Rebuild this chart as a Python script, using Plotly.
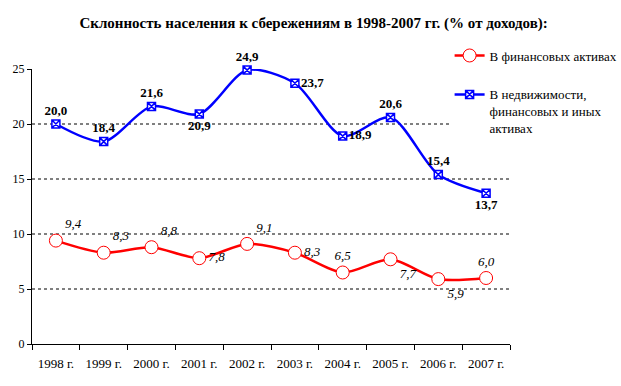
import plotly.graph_objects as go

years = ["1998 г.", "1999 г.", "2000 г.", "2001 г.", "2002 г.", "2003 г.", "2004 г.", "2005 г.", "2006 г.", "2007 г."]
financial = [9.4, 8.3, 8.8, 7.8, 9.1, 8.3, 6.5, 7.7, 5.9, 6.0]
real_estate = [20.0, 18.4, 21.6, 20.9, 24.9, 23.7, 18.9, 20.6, 15.4, 13.7]
grid_values = [5, 10, 15, 20]

fin_pos = ["top right", "top right", "top right", "middle right", "top right",
           "middle right", "top center", "bottom right", "bottom right", "top center"]
re_pos = ["top center", "top center", "top center", "bottom center", "top center",
          "middle right", "middle right", "top center", "top center", "bottom center"]

def fmt(v):
    return f"{v:.1f}".replace(".", ",")

FONT = "Times New Roman, Liberation Serif, serif"

fig = go.Figure()
fig.add_trace(go.Scatter(
    x=years, y=financial, name="В финансовых активах", legendgroup="a",
    mode="lines+markers+text", line=dict(color="#ff0000", width=2.5, shape="spline", smoothing=0.8),
    marker=dict(symbol="circle", size=13, color="white", line=dict(color="#ff0000", width=1)),
    text=[fmt(v) for v in financial], textposition=fin_pos, cliponaxis=False,
    textfont=dict(family=FONT, size=13, color="black", style="italic"),
))
fig.add_trace(go.Scatter(
    x=years, y=real_estate, name="В недвижимости,<br>финансовых и иных<br>активах", legendgroup="b",
    mode="lines+markers+text", line=dict(color="#0000ff", width=2.5, shape="spline", smoothing=0.8),
    marker=dict(symbol="square-x", size=8, color="white", line=dict(color="#0000ff", width=1.5)),
    text=[fmt(v) for v in real_estate], textposition=re_pos, cliponaxis=False,
    textfont=dict(family=FONT, size=13, color="black", weight="bold"),
))

for g in grid_values:
    fig.add_shape(type="line", xref="paper", x0=0, x1=1, yref="y", y0=g, y1=g,
                  line=dict(color="black", width=1, dash="3px,3px"), layer="below")

fig.update_layout(
    width=621, height=386,
    margin=dict(l=32, r=111, t=69, b=42, autoexpand=False),
    paper_bgcolor="white", plot_bgcolor="white",
    font=dict(family=FONT, size=12, color="black"),
    title=dict(text="<b>Склонность населения к сбережениям в 1998-2007 гг. (% от доходов):</b>",
               x=0.505, xref="container", xanchor="center", y=0.955, yref="container",
               font=dict(family=FONT, size=15, color="black")),
    showlegend=True,
    legend=dict(x=0.724, y=0.895, xref="container", yref="container", xanchor="left", yanchor="top",
                bgcolor="white", font=dict(family=FONT, size=13, color="black"), tracegroupgap=19,
                itemwidth=30, valign="top"),
    xaxis=dict(type="category", showgrid=False, showline=True, linecolor="black", linewidth=1,
               ticks="outside", ticklen=5, tickcolor="black", tickson="boundaries",
               ticklabelstandoff=7,
               tickfont=dict(family=FONT, size=13), range=[-0.5, 9.5]),
    yaxis=dict(range=[0, 25], tickvals=[0, 5, 10, 15, 20, 25], showgrid=False, zeroline=False,
               showline=True, linecolor="black", linewidth=1, ticks="outside", ticklen=4,
               tickcolor="black", tickfont=dict(family=FONT, size=12)),
)

fig.write_html("out.html", config={"displayModeBar": False},
               post_script="document.body.style.margin='0';")
